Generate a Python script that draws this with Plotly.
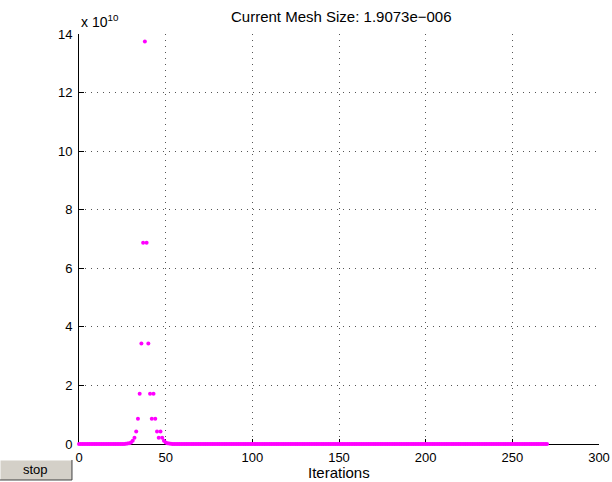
import plotly.graph_objects as go

# ---- data ----
title_text = "Current Mesh Size: 1.9073e\u2212006"
x_label = "Iterations"
x_tick_vals = [0, 50, 100, 150, 200, 250, 300]
y_tick_vals = [0, 2e10, 4e10, 6e10, 8e10, 10e10, 12e10, 14e10]
y_tick_text = ["0", "2", "4", "6", "8", "10", "12", "14"]
exponent_label = "x 10<sup>10</sup>"
button_label = "stop"

# mesh size at each iteration, stored as base-2 exponents
mesh_exponents = [
    -1, 0, 1, 2, 3, 4, 5, 6, 7, 8, 9, 10, 11, 12, 13, 14, 15, 16, 17, 18,
    19, 20, 21, 22, 23, 24, 25, 26, 27, 28, 29, 30, 31, 32, 33, 34, 35, 36, 37,
    36, 35, 34, 33, 34, 33, 32, 31, 32, 31,
    30, 29, 28, 27, 26, 25, 24, 23, 22, 21, 20, 19, 18, 17, 16, 15, 14, 13, 12, 11,
    10, 9, 8, 7, 6, 5, 4, 3, 2, 1, 0, -1, -2, -3, -4, -5, -6, -7, -8, -9,
    -10, -11, -12, -13, -14, -15, -16, -17, -18, -19,
    -18, -19, -18, -19, -18, -19, -18, -19, -18, -19, -18, -19, -18, -19, -18, -19, -18, -19, -18, -19,
    -18, -19, -18, -19, -18, -19, -18, -19, -18, -19, -18, -19, -18, -19, -18, -19, -18, -19, -18, -19,
    -18, -19, -18, -19, -18, -19, -18, -19, -18, -19, -18, -19, -18, -19, -18, -19, -18, -19, -18, -19,
    -18, -19, -18, -19, -18, -19, -18, -19, -18, -19, -18, -19, -18, -19, -18, -19, -18, -19, -18, -19,
    -18, -19, -18, -19, -18, -19, -18, -19, -18, -19, -18, -19, -18, -19, -18, -19, -18, -19, -18, -19,
    -18, -19, -18, -19, -18, -19, -18, -19, -18, -19, -18, -19, -18, -19, -18, -19, -18, -19, -18, -19,
    -18, -19, -18, -19, -18, -19, -18, -19, -18, -19, -18, -19, -18, -19, -18, -19, -18, -19, -18, -19,
    -18, -19, -18, -19, -18, -19, -18, -19, -18, -19, -18, -19, -18, -19, -18, -19, -18, -19, -18, -19,
    -18, -19, -18, -19, -18, -19, -18, -19, -18, -19, -18, -19,
]
mesh_size = [2.0 ** e for e in mesh_exponents]
iterations = list(range(len(mesh_size)))

FONT = "Liberation Sans, Arial, Helvetica, sans-serif"

fig = go.Figure()
fig.add_trace(go.Scatter(
    x=iterations, y=mesh_size, mode="markers",
    marker=dict(color="#FF00FF", size=4, line=dict(width=0)),
    cliponaxis=False, showlegend=False, hoverinfo="x+y",
))

axis_common = dict(
    ticks="inside", ticklen=5, tickwidth=1, tickcolor="black",
    showline=True, linecolor="black", linewidth=1, mirror=False,
    showgrid=True, gridcolor="#555555", gridwidth=1, griddash="1px,5px",
    zeroline=False, layer="below traces", automargin=False,
    tickfont=dict(family=FONT, size=13, color="black"),
)

fig.update_layout(
    template="none",
    width=612, height=482,
    margin=dict(l=79, r=13, t=34, b=38, pad=0, autoexpand=False),
    paper_bgcolor="white", plot_bgcolor="white",
    xaxis=dict(range=[0, 300], tickvals=x_tick_vals, ticklabelstandoff=1,
               **axis_common),
    yaxis=dict(range=[0, 14e10], tickvals=y_tick_vals, ticktext=y_tick_text,
               ticklabelstandoff=3, **axis_common),
    font=dict(family=FONT, color="black"),
    showlegend=False,
)

# title, x label, exponent label
fig.add_annotation(text=title_text, xref="paper", yref="paper", x=0.505, y=1.0415,
                   xanchor="center", yanchor="middle", showarrow=False,
                   font=dict(family=FONT, size=15, color="black"))
fig.add_annotation(text=x_label, xref="paper", yref="paper", x=0.5, y=-0.0695,
                   xanchor="center", yanchor="middle", showarrow=False,
                   font=dict(family=FONT, size=15, color="black"))
fig.add_annotation(text=exponent_label, xref="paper", yref="paper", x=0.0, y=1.005,
                   xanchor="left", yanchor="bottom", showarrow=False,
                   font=dict(family=FONT, size=14, color="black"))

# stop button (paper coordinates relative to plot area)
bx0, bx1 = -0.1519, -0.0135
by0, by1 = -0.0878, -0.039
fig.add_shape(type="rect", xref="paper", yref="paper", x0=bx0, x1=bx1, y0=by0, y1=by1,
              fillcolor="#D4D0C8", line=dict(width=0), layer="above")
fig.add_shape(type="line", xref="paper", yref="paper", x0=bx0, x1=bx1, y0=by1, y1=by1,
              line=dict(color="white", width=1))
fig.add_shape(type="line", xref="paper", yref="paper", x0=bx0, x1=bx0, y0=by0, y1=by1,
              line=dict(color="white", width=1))
fig.add_shape(type="line", xref="paper", yref="paper", x0=bx1, x1=bx1, y0=by0, y1=by1,
              line=dict(color="#404040", width=1))
fig.add_shape(type="line", xref="paper", yref="paper", x0=bx0, x1=bx1, y0=by0, y1=by0,
              line=dict(color="#404040", width=1))
fig.add_annotation(text=button_label, xref="paper", yref="paper",
                   x=(bx0 + bx1) / 2, y=(by0 + by1) / 2,
                   xanchor="center", yanchor="middle", showarrow=False,
                   font=dict(family=FONT, size=13, color="black"))

fig.write_html("out.html",
               config={"displayModeBar": False},
               post_script="document.body.style.margin='0px';"
                           "document.body.style.overflow='hidden';")
